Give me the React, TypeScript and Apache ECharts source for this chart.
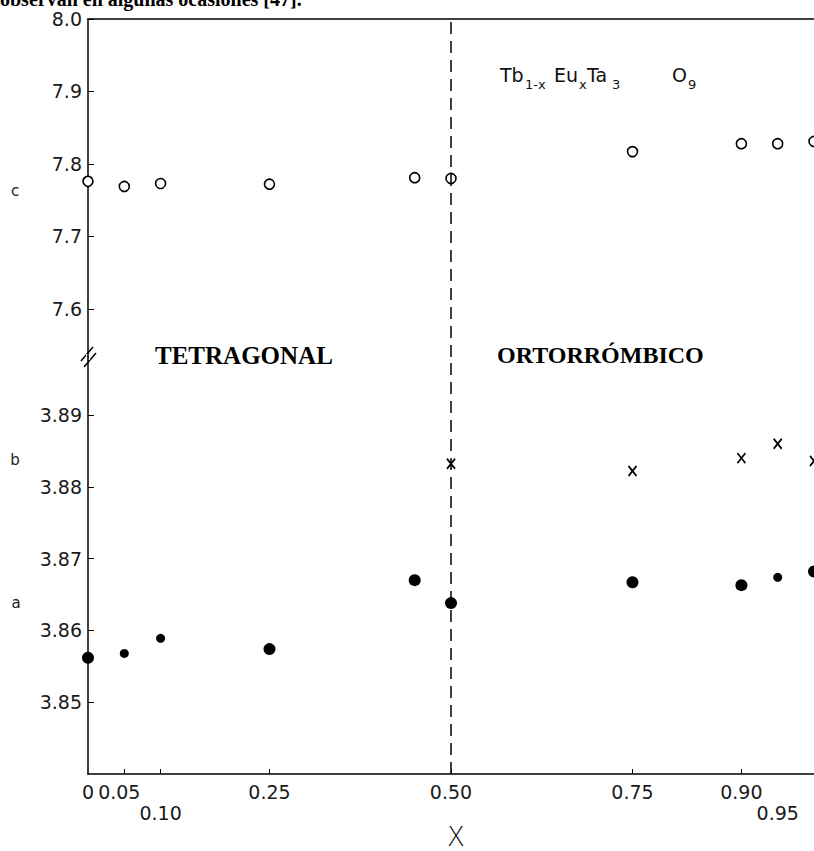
import React, { useEffect, useRef } from "react";
import * as echarts from "echarts";

// ---- data ----
const X_VALUES = [0, 0.05, 0.1, 0.25, 0.45, 0.5, 0.75, 0.9, 0.95, 1.0];
const C_VALUES = [7.776, 7.769, 7.773, 7.772, 7.781, 7.78, 7.817, 7.828, 7.828, 7.831];
const A_VALUES = [3.8562, 3.8568, 3.8589, 3.8574, 3.867, 3.8638, 3.8667, 3.8663, 3.8674, 3.8682];
const B_X = [0.5, 0.75, 0.9, 0.95, 1.0];
const B_VALUES = [3.8832, 3.8822, 3.884, 3.886, 3.8836];

const X_LABEL_VALUES = [0, 0.05, 0.1, 0.25, 0.5, 0.75, 0.9, 0.95];
const X_LABEL_TEXTS = ["0", "0.05", "0.10", "0.25", "0.50", "0.75", "0.90", "0.95"];
const X_LOWER_ROW = [0.1, 0.95];
const X_TICK_VALUES = [0.05, 0.1, 0.25, 0.5, 0.75, 0.9];

const C_TICKS = [7.6, 7.7, 7.8, 7.9, 8.0];
const AB_TICKS = [3.85, 3.86, 3.87, 3.88, 3.89];
const PHASE_BOUNDARY = 0.5;

const LABEL_FONT = "DejaVu Sans";

export default function App() {
  const ref = useRef<HTMLDivElement>(null);

  useEffect(() => {
    if (!ref.current) return;
    const chart = echarts.init(ref.current, null, { renderer: "svg" });

    const near = (a: number, b: number) => Math.abs(a - b) < 1e-6;
    const isLower = (v: number) => X_LOWER_ROW.some((x) => near(x, v));
    const xText = (v: number) => {
      const i = X_LABEL_VALUES.findIndex((x) => near(x, v));
      if (i < 0) return "";
      // the "0.05" label sits right against the "0" in the original
      return near(v, 0.05) ? "{s|" + X_LABEL_TEXTS[i] + "}" : X_LABEL_TEXTS[i];
    };
    const axisLine = { show: true, lineStyle: { color: "#000", width: 1.5 } };
    const labelStyle = { fontFamily: LABEL_FONT, fontSize: 19, color: "#1a1a1a" };
    const markLine = {
      silent: true,
      symbol: ["none", "none"],
      label: { show: false },
      lineStyle: { color: "#000", type: [12, 7], width: 1.5 },
      data: [{ xAxis: PHASE_BOUNDARY }],
    };

    const option: any = {
      animation: false,
      backgroundColor: "#fff",
      grid: [
        { left: 88, top: 19, width: 728, height: 338 },
        { left: 88, top: 357, width: 728, height: 424 },
      ],
      xAxis: [
        {
          gridIndex: 0,
          type: "value",
          min: 0,
          max: 1,
          position: "top",
          axisLine,
          axisTick: { show: false },
          axisLabel: { show: false },
          splitLine: { show: false },
        },
        {
          gridIndex: 1,
          type: "value",
          min: 0,
          max: 1,
          position: "bottom",
          axisLine,
          axisTick: {
            show: true,
            inside: true,
            length: 5,
            customValues: X_TICK_VALUES,
            lineStyle: { color: "#000", width: 1 },
          },
          axisLabel: {
            show: true,
            customValues: X_LABEL_VALUES.filter((v) => !isLower(v)),
            margin: 8,
            ...labelStyle,
            rich: { s: { ...labelStyle, padding: [0, 10, 0, 0] } },
            formatter: (v: number) => xText(v),
          },
          splitLine: { show: false },
          name: "X",
          nameLocation: "middle",
          nameGap: 50,
          nameTextStyle: { fontFamily: LABEL_FONT, fontWeight: 300, fontSize: 26, color: "#111", padding: [0, 0, 0, 10] },
        },
        {
          gridIndex: 1,
          type: "value",
          min: 0,
          max: 1,
          position: "bottom",
          offset: 21,
          axisLine: { show: false },
          axisTick: { show: false },
          axisLabel: {
            show: true,
            customValues: X_LABEL_VALUES.filter((v) => isLower(v)),
            margin: 8,
            ...labelStyle,
            formatter: (v: number) => xText(v),
          },
          splitLine: { show: false },
        },
      ],
      yAxis: [
        {
          gridIndex: 0,
          type: "value",
          min: 7.5336,
          max: 8.0,
          axisLine,
          axisTick: {
            show: true,
            inside: true,
            length: 6,
            customValues: C_TICKS,
            lineStyle: { color: "#000", width: 1 },
          },
          axisLabel: {
            show: true,
            customValues: C_TICKS,
            margin: 6,
            ...labelStyle,
            formatter: (v: number) => v.toFixed(1),
          },
          splitLine: { show: false },
        },
        {
          gridIndex: 1,
          type: "value",
          min: 3.84,
          max: 3.89808,
          axisLine,
          axisTick: {
            show: true,
            inside: true,
            length: 6,
            customValues: AB_TICKS,
            lineStyle: { color: "#000", width: 1 },
          },
          axisLabel: {
            show: true,
            customValues: AB_TICKS,
            margin: 6,
            ...labelStyle,
            formatter: (v: number) => v.toFixed(2),
          },
          splitLine: { show: false },
        },
      ],
      series: [
        {
          name: "c",
          type: "scatter",
          xAxisIndex: 0,
          yAxisIndex: 0,
          symbol: "circle",
          symbolSize: 10,
          itemStyle: { color: "#fff", borderColor: "#000", borderWidth: 1.6, opacity: 1 },
          data: X_VALUES.map((x, i) => [x, C_VALUES[i]]),
          markLine,
        },
        {
          name: "b",
          type: "scatter",
          xAxisIndex: 1,
          yAxisIndex: 1,
          symbol: "path://M0,0L10,12M10,0L0,12",
          symbolSize: [8, 10],
          itemStyle: { color: "none", borderColor: "#000", borderWidth: 1.8, opacity: 1 },
          data: B_X.map((x, i) => [x, B_VALUES[i]]),
        },
        {
          name: "a",
          type: "scatter",
          xAxisIndex: 1,
          yAxisIndex: 1,
          symbol: "circle",
          symbolSize: (_v: any, p: any) => ([1, 2, 8].includes(p.dataIndex) ? 9 : 12),
          itemStyle: { color: "#000", opacity: 1 },
          data: X_VALUES.map((x, i) => [x, A_VALUES[i]]),
          markLine,
        },
      ],
      graphic: [
        {
          type: "text",
          x: 0,
          y: -1,
          style: {
            text: "observan en algunas ocasiones [47].",
            fontFamily: "Liberation Serif",
            fontWeight: "bold",
            fontSize: 20,
            fill: "#000",
            verticalAlign: "middle",
          },
        },
        {
          type: "text",
          x: 15,
          y: 191,
          style: { text: "c", fontFamily: LABEL_FONT, fontSize: 15, fill: "#222", align: "center", verticalAlign: "middle" },
        },
        {
          type: "text",
          x: 15,
          y: 460,
          style: { text: "b", fontFamily: LABEL_FONT, fontSize: 15, fill: "#222", align: "center", verticalAlign: "middle" },
        },
        {
          type: "text",
          x: 16,
          y: 603,
          style: { text: "a", fontFamily: LABEL_FONT, fontSize: 15, fill: "#222", align: "center", verticalAlign: "middle" },
        },
        {
          type: "text",
          x: 155,
          y: 355,
          style: { text: "TETRAGONAL", fontFamily: "Liberation Serif", fontWeight: "bold", fontSize: 25, fill: "#000", verticalAlign: "middle" },
        },
        {
          type: "text",
          x: 497,
          y: 355,
          style: { text: "ORTORRÓMBICO", fontFamily: "Liberation Serif", fontWeight: "bold", fontSize: 24, fill: "#000", verticalAlign: "middle" },
        },
        // formula Tb(1-x) Eu(x) Ta(3) O(9)
        { type: "text", x: 500, y: 75, style: { text: "Tb", fontFamily: LABEL_FONT, fontSize: 19, fill: "#111", verticalAlign: "middle" } },
        { type: "text", x: 525, y: 84, style: { text: "1-x", fontFamily: LABEL_FONT, fontSize: 13, fill: "#111", verticalAlign: "middle" } },
        { type: "text", x: 554, y: 75, style: { text: "Eu", fontFamily: LABEL_FONT, fontSize: 19, fill: "#111", verticalAlign: "middle" } },
        { type: "text", x: 579, y: 84, style: { text: "x", fontFamily: LABEL_FONT, fontSize: 13, fill: "#111", verticalAlign: "middle" } },
        { type: "text", x: 587, y: 75, style: { text: "Ta", fontFamily: LABEL_FONT, fontSize: 19, fill: "#111", verticalAlign: "middle" } },
        { type: "text", x: 612, y: 84, style: { text: "3", fontFamily: LABEL_FONT, fontSize: 13, fill: "#111", verticalAlign: "middle" } },
        { type: "text", x: 672, y: 75, style: { text: "O", fontFamily: LABEL_FONT, fontSize: 19, fill: "#111", verticalAlign: "middle" } },
        { type: "text", x: 688, y: 84, style: { text: "9", fontFamily: LABEL_FONT, fontSize: 13, fill: "#111", verticalAlign: "middle" } },
        // axis break marks
        { type: "line", shape: { x1: 81, y1: 361, x2: 93, y2: 347 }, style: { stroke: "#000", lineWidth: 1.5 } },
        { type: "line", shape: { x1: 84, y1: 367, x2: 96, y2: 353 }, style: { stroke: "#000", lineWidth: 1.5 } },
        { type: "rect", shape: { x: 86, y: 354, width: 4, height: 6 }, style: { fill: "#fff" } },
      ],
    };

    chart.setOption(option);
    return () => chart.dispose();
  }, []);

  return (
    <div
      ref={ref}
      style={{ position: "absolute", left: 0, top: 0, width: 814, height: 851 }}
    />
  );
}
